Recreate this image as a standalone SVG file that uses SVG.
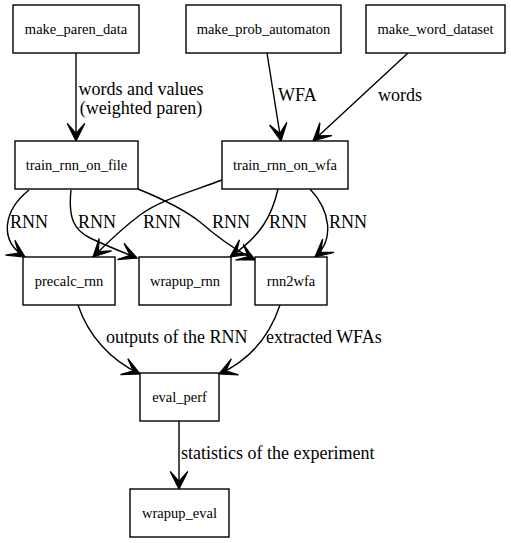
<svg xmlns="http://www.w3.org/2000/svg" width="511" height="543" viewBox="0 0 511 543">
<style>
.box{fill:#fff;stroke:#000;stroke-width:1.4}
.nl{font-family:"Liberation Serif",serif;font-size:14.5px;text-anchor:middle;fill:#000}
.el{font-family:"Liberation Serif",serif;font-size:18px;fill:#000}
.e{fill:none;stroke:#000;stroke-width:1.4;marker-end:url(#vee)}
</style>
<defs>
<marker id="vee" markerUnits="userSpaceOnUse" orient="auto" markerWidth="20" markerHeight="20" refX="15" refY="8" viewBox="0 0 16 16">
<path d="M15,8 L1,1 L9,8 L1,15 Z" fill="#000" stroke="#000" stroke-width="1"/>
</marker>
</defs>
<rect width="511" height="543" fill="#fff"/>
<g id="edges">
<path class="e" d="M76,53 L76,141"/>
<path class="e" d="M267,53 L281,141"/>
<path class="e" d="M408,53 L313,141"/>
<path class="e" d="M29,190 C4,210 -2,240 25,257"/>
<path class="e" d="M71,190 C68,218 74,230 90,238 C105,245 122,252 137,258"/>
<path class="e" d="M138,189 C165,200 185,210 200,222 C215,235 235,250 255,260"/>
<path class="e" d="M222,180 C190,192 160,200 140,215 C120,230 105,245 93,257"/>
<path class="e" d="M278,189 C272,215 262,235 230,257"/>
<path class="e" d="M310,189 C330,210 335,240 315,257"/>
<path class="e" d="M78,305 C88,335 110,360 140,374"/>
<path class="e" d="M280,305 C270,335 250,360 219,374"/>
<path class="e" d="M179,421 L179,489"/>
<text class="el" x="141" y="95" text-anchor="middle">words and values</text>
<text class="el" x="141" y="114" text-anchor="middle">(weighted paren)</text>
<text class="el" x="278" y="101">WFA</text>
<text class="el" x="378" y="101">words</text>
<text class="el" x="10" y="228">RNN</text>
<text class="el" x="78" y="228">RNN</text>
<text class="el" x="143" y="228">RNN</text>
<text class="el" x="212" y="228">RNN</text>
<text class="el" x="269" y="228">RNN</text>
<text class="el" x="329" y="228">RNN</text>
<text class="el" x="106" y="343">outputs of the RNN</text>
<text class="el" x="266" y="343">extracted WFAs</text>
<text class="el" x="181" y="459">statistics of the experiment</text>
</g>
<g id="make_paren_data"><rect class="box" x="13" y="5" width="126" height="48"/><text class="nl" x="76" y="34">make_paren_data</text></g>
<g id="make_prob_automaton"><rect class="box" x="186" y="5" width="155" height="48"/><text class="nl" x="263.5" y="34">make_prob_automaton</text></g>
<g id="make_word_dataset"><rect class="box" x="366" y="5" width="139" height="48"/><text class="nl" x="435.5" y="34">make_word_dataset</text></g>
<g id="train_rnn_on_file"><rect class="box" x="15" y="141" width="123" height="48"/><text class="nl" x="76.5" y="170">train_rnn_on_file</text></g>
<g id="train_rnn_on_wfa"><rect class="box" x="222" y="141" width="126" height="48"/><text class="nl" x="285" y="170">train_rnn_on_wfa</text></g>
<g id="precalc_rnn"><rect class="box" x="23" y="257" width="92" height="48"/><text class="nl" x="69" y="286">precalc_rnn</text></g>
<g id="wrapup_rnn"><rect class="box" x="139" y="257" width="92" height="48"/><text class="nl" x="185" y="286">wrapup_rnn</text></g>
<g id="rnn2wfa"><rect class="box" x="255" y="257" width="72" height="48"/><text class="nl" x="291" y="286">rnn2wfa</text></g>
<g id="eval_perf"><rect class="box" x="140" y="373" width="79" height="48"/><text class="nl" x="179.5" y="402">eval_perf</text></g>
<g id="wrapup_eval"><rect class="box" x="130" y="489" width="99" height="48"/><text class="nl" x="179.5" y="518">wrapup_eval</text></g>
</svg>
